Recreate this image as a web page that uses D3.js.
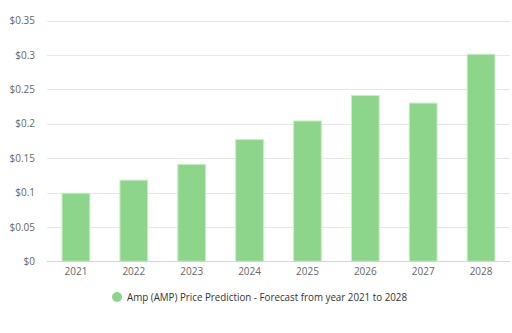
<!DOCTYPE html>
<html><head><meta charset="utf-8">
<script src="https://cdn.jsdelivr.net/npm/d3@7"></script>
<style>body{margin:0;background:#fff;}svg{display:block;font-family:"Open Sans",sans-serif;}</style>
</head><body><svg id="c" width="512" height="333"></svg>
<script>
const years = ["2021","2022","2023","2024","2025","2026","2027","2028"];
const prices = [0.099, 0.118, 0.141, 0.177, 0.204, 0.241, 0.230, 0.301];
const yTicks = [0, 0.05, 0.1, 0.15, 0.2, 0.25, 0.3, 0.35];
const yTickLabels = ["$0","$0.05","$0.1","$0.15","$0.2","$0.25","$0.3","$0.35"];
const legendLabel = "Amp (AMP) Price Prediction - Forecast from year 2021 to 2028";

const svg = d3.select("#c");
const m = {l:47, r:2, t:20.5, b:71.7};
const W = 512, H = 333;
const x = d3.scaleBand().domain(years).range([m.l, W - m.r]).paddingInner(0.52).paddingOuter(0.26);
const y = d3.scaleLinear().domain([0, 0.35]).range([H - m.b, m.t]);

// grid
svg.append("g").selectAll("line").data(yTicks.slice(1)).join("line")
  .attr("x1", m.l).attr("x2", W - m.r)
  .attr("y1", d => Math.round(y(d)) + 0.5).attr("y2", d => Math.round(y(d)) + 0.5)
  .attr("stroke", "#e6e6e6").attr("stroke-width", 1);

// y labels
const yAxis = d3.axisLeft(y).tickValues(yTicks).tickSize(0).tickPadding(0)
  .tickFormat((d,i) => yTickLabels[i]);
const gy = svg.append("g").attr("transform", `translate(35,0)`).call(yAxis);
gy.select(".domain").remove();
gy.selectAll("text").attr("fill", "#666").style("font-size", "10px").style("font-family", "'Open Sans',sans-serif");

// bars
svg.append("g").selectAll("rect").data(prices).join("rect")
  .attr("x", (d,i) => x(years[i]))
  .attr("width", x.bandwidth())
  .attr("y", d => y(d))
  .attr("height", d => y(0) - y(d))
  .attr("fill", "#8dd58a").attr("stroke", "#c9efc6").attr("stroke-width", 1);

// x axis
const xAxis = d3.axisBottom(x).tickSize(0).tickPadding(6);
const gx = svg.append("g").attr("transform", `translate(0,${Math.round(y(0)) + 0.5})`).call(xAxis);
gx.select(".domain").attr("stroke", "#ccd6eb").attr("d", `M${m.l},0H${W - m.r}`);
gx.selectAll("text").attr("fill", "#666").style("font-size", "10px").style("font-family", "'Open Sans',sans-serif");

// legend
const lg = svg.append("g");
lg.append("circle").attr("cx", 117).attr("cy", 297).attr("r", 5).attr("fill", "#8dd58a");
lg.append("text").attr("x", 127).attr("y", 300.5).attr("fill", "#333")
  .attr("textLength", 280).attr("lengthAdjust", "spacingAndGlyphs")
  .style("font-size", "10px").style("font-family", "'Open Sans',sans-serif").text(legendLabel);
</script>
</body></html>
